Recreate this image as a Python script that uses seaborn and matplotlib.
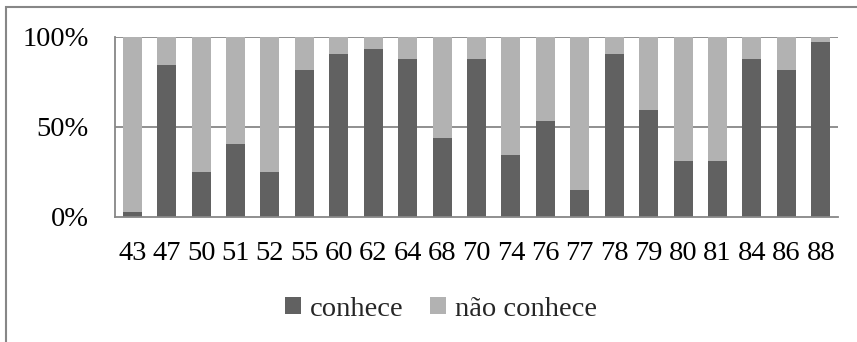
import matplotlib
matplotlib.use("Agg")
import matplotlib.pyplot as plt
from matplotlib.patches import Rectangle, Patch
from matplotlib.ticker import FuncFormatter
import seaborn as sns
import pandas as pd

# Ages and share (%) of respondents who know / don't know
idades = ["43", "47", "50", "51", "52", "55", "60", "62", "64", "68", "70",
          "74", "76", "77", "78", "79", "80", "81", "84", "86", "88"]
conhece = [3, 84.4, 25, 40.4, 25, 81.5, 90.6, 93.5, 87.6, 43.7, 87.6,
           34.3, 53.1, 15.2, 90.6, 59.3, 31.1, 31.1, 87.6, 81.5, 97]
nao_conhece = [97, 15.6, 75, 59.6, 75, 18.5, 9.4, 6.5, 12.4, 56.3, 12.4,
               65.7, 46.9, 84.8, 9.4, 40.7, 68.9, 68.9, 12.4, 18.5, 3]

df = pd.DataFrame({"idade": idades, "conhece": conhece, "nao": nao_conhece})
df["total"] = df["conhece"] + df["nao"]

sns.set_theme(style="white")
plt.rcParams["font.family"] = ["Liberation Serif", "DejaVu Serif"]

DARK = "#616161"
LIGHT = "#b2b2b2"
LINE = "#878787"
FS = 20.5

fig = plt.figure(figsize=(8.57, 3.42), dpi=100)
ax = fig.add_axes([115 / 857, 1 - 217 / 342, (838 - 115) / 857, 180 / 342])

sns.barplot(data=df, x="idade", y="total", color=LIGHT, saturation=1,
            width=0.55, ax=ax, linewidth=0)
sns.barplot(data=df, x="idade", y="conhece", color=DARK, saturation=1,
            width=0.55, ax=ax, linewidth=0)

ax.set_ylim(0, 100)
ax.set_xlim(-0.5, len(idades) - 0.5)
ax.set_yticks([0, 50, 100])
ax.yaxis.set_major_formatter(FuncFormatter(lambda v, p: f"{int(v)}%"))
ax.set_xlabel("")
ax.set_ylabel("")

for y in (50, 100):
    ax.axhline(y, color=LINE, lw=1.3, zorder=0.5)

for s in ("top", "right"):
    ax.spines[s].set_visible(False)
for s in ("left", "bottom"):
    ax.spines[s].set_color(LINE)
    ax.spines[s].set_linewidth(1.3)

ax.tick_params(axis="y", length=0, pad=19, labelsize=FS, colors="black")
ax.tick_params(axis="x", length=0, pad=17, labelsize=FS, colors="black")

handles = [Patch(facecolor=DARK, edgecolor="none", label="conhece"),
           Patch(facecolor=LIGHT, edgecolor="none", label="não conhece")]
fig.legend(handles=handles, loc="center", ncol=2, frameon=False,
           bbox_to_anchor=(441 / 857, 1 - 309 / 342), fontsize=FS,
           handlelength=0.55, handleheight=0.55, handletextpad=0.3,
           columnspacing=0.95)

# Chart-area frame
fig.patches.append(Rectangle((5.5 / 857, -0.1), 1.2, (342 - 7.5) / 342 + 0.1,
                             transform=fig.transFigure, fill=False,
                             edgecolor=LINE, lw=1.5, clip_on=False))

fig.savefig("out.png", dpi=100)
